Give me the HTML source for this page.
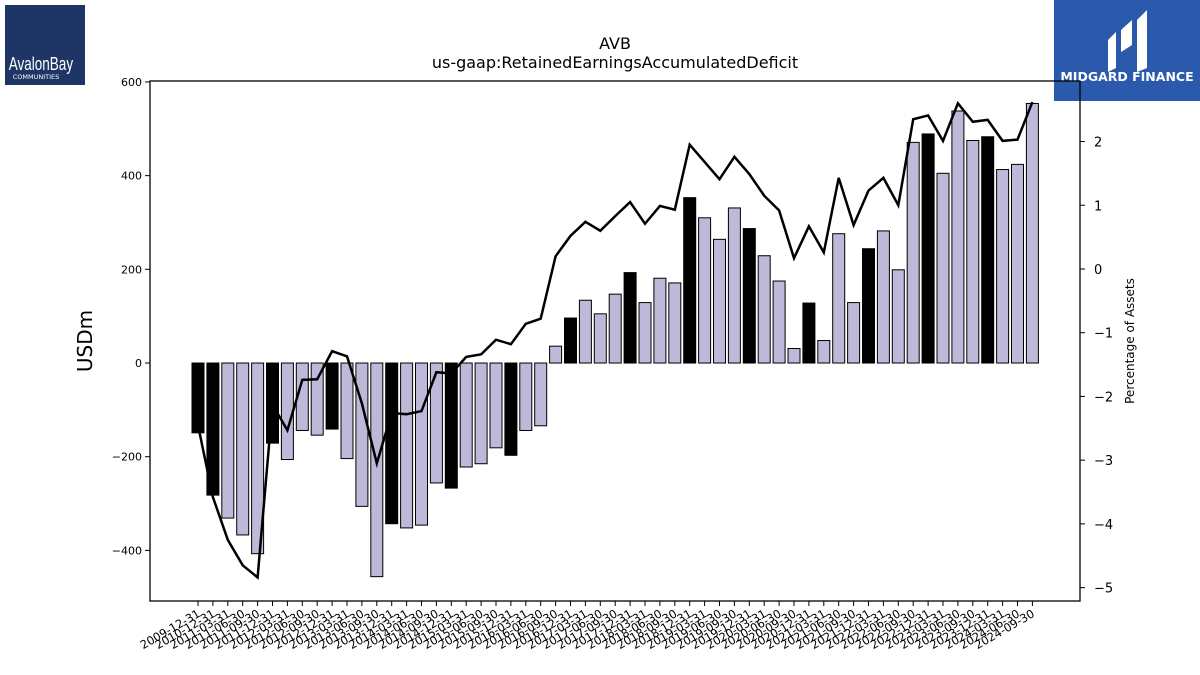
<!DOCTYPE html>
<html><head><meta charset="utf-8">
<style>
html,body{margin:0;padding:0;background:#fff;}
svg{display:block;font-family:"DejaVu Sans","Liberation Sans",sans-serif;}
</style></head>
<body>
<svg id="chart" width="1200" height="675" viewBox="0 0 1200 675" xmlns="http://www.w3.org/2000/svg">
  <g>
    <rect x="5" y="5" width="80" height="80" fill="#1f3566"/>
    <text x="41" y="70" fill="#fff" font-size="15" text-anchor="middle" font-family="Liberation Sans Narrow, Liberation Sans, sans-serif" transform="scale(0.9,1.25) translate(4.5,-14)">AvalonBay</text>
    <text x="36" y="79" fill="#fff" font-size="6.5" text-anchor="middle">COMMUNITIES</text>
  </g>
  <g>
    <rect x="1054" y="0" width="146" height="101" fill="#2b5aad"/>
    <path d="M1108 40 L1116 32 L1116 68 L1108 72 Z M1121 30 L1132 20 L1132 45 L1121 52 Z M1137 20 L1147 10 L1147 68 L1137 72 Z" fill="#fff"/>
    <text x="1127" y="81" fill="#fff" font-size="12.5" font-weight="bold" text-anchor="middle">MIDGARD FINANCE</text>
  </g>
  <text x="615" y="49" font-size="16" text-anchor="middle">AVB</text>
  <text x="615" y="68" font-size="16" text-anchor="middle">us-gaap:RetainedEarningsAccumulatedDeficit</text>
  <text x="0" y="0" font-size="20" text-anchor="middle" transform="translate(92,341) rotate(-90)">USDm</text>
  <text x="0" y="0" font-size="12" text-anchor="middle" transform="translate(1134,341) rotate(-90)">Percentage of Assets</text>
  <g id="bars"></g>
  <g id="line"></g>
  <g id="axes"></g>
  <rect x="150" y="81" width="930" height="520" fill="none" stroke="#000" stroke-width="1.3"/>
</svg>
<script>
const values = [-149,-282,-331,-367,-407,-171,-206,-144,-154,-141,-204,-306,-456,-343,-352,-346,-256,-267,-222,-215,-181,-197,-144,-134,36,96,134,105,147,193,129,181,171,353,310,264,331,287,229,175,31,128,48,276,129,244,282,199,471,489,405,538,475,483,413,424,554];
const pct = [-2.45,-3.58,-4.25,-4.65,-4.84,-2.13,-2.53,-1.74,-1.73,-1.29,-1.37,-2.11,-3.05,-2.26,-2.28,-2.23,-1.62,-1.64,-1.38,-1.34,-1.11,-1.18,-0.86,-0.78,0.2,0.52,0.74,0.6,0.83,1.05,0.71,0.99,0.93,1.95,1.68,1.41,1.76,1.49,1.15,0.92,0.17,0.67,0.26,1.43,0.69,1.23,1.43,1.0,2.35,2.41,2.01,2.6,2.31,2.34,2.01,2.03,2.62];
const leftTicks = [-400,-200,0,200,400,600];
const rightTicks = [-5,-4,-3,-2,-1,0,1,2];
const labels = ["2009-12-31","2010-12-31"];
const qEnds = ["03-31","06-30","09-30","12-31"];
for (let y=2011; y<=2024; y++) for (const q of qEnds) { if (labels.length<57) labels.push(y+"-"+q); }

const NS="http://www.w3.org/2000/svg";
const X0=150,X1=1080,Y0=81,Y1=601;
const lMin=-508,lMax=602,rMin=-5.21,rMax=2.95;
const yL=v=>Y1-(v-lMin)/(lMax-lMin)*(Y1-Y0);
const yR=v=>Y1-(v-rMin)/(rMax-rMin)*(Y1-Y0);
const step=14.9;
const xC=i=>198+i*step;
function mk(t,a,p){const e=document.createElementNS(NS,t);for(const k in a)e.setAttribute(k,a[k]);p.appendChild(e);return e;}
const bars=document.getElementById('bars'),line=document.getElementById('line'),axes=document.getElementById('axes');
values.forEach((v,i)=>{
  const annual=labels[i].endsWith("12-31");
  const y0=yL(0),y=yL(v);
  const r=mk('rect',{x:xC(i)-6,y:Math.min(y,y0),width:12,height:Math.abs(y-y0),fill:annual?'#000':'#bcb9d9',stroke:'#000','stroke-width':1},bars);
  
  
});
const pl=mk('polyline',{points:pct.map((p,i)=>xC(i)+','+yR(p)).join(' '),fill:'none',stroke:'#000','stroke-width':2.5,'stroke-linejoin':'miter'},line);


leftTicks.forEach(t=>{
  const y=yL(t);
  mk('line',{x1:X0-5,x2:X0,y1:y,y2:y,stroke:'#000'},axes);
  const tx=mk('text',{x:X0-8,y:y+4,'font-size':11,'text-anchor':'end'},axes);
  tx.textContent=t===0?'0':(t<0?'\u2212'+(-t):t);
  
  
});
rightTicks.forEach(t=>{
  const y=yR(t);
  mk('line',{x1:X1,x2:X1+5,y1:y,y2:y,stroke:'#000'},axes);
  const tx=mk('text',{x:X1+14,y:y+5,'font-size':13},axes);
  tx.textContent=t<0?'\u2212'+(-t):String(t);
  
  
});
labels.forEach((l,i)=>{
  const x=xC(i);
  mk('line',{x1:x,x2:x,y1:Y1,y2:Y1+5,stroke:'#000'},axes);
  const tx=mk('text',{x:0,y:0,'font-size':11.5,'text-anchor':'end',transform:`translate(${x+3},${Y1+15}) rotate(-30)`},axes);
  tx.textContent=l;
  
  
});
</script>
</body></html>
